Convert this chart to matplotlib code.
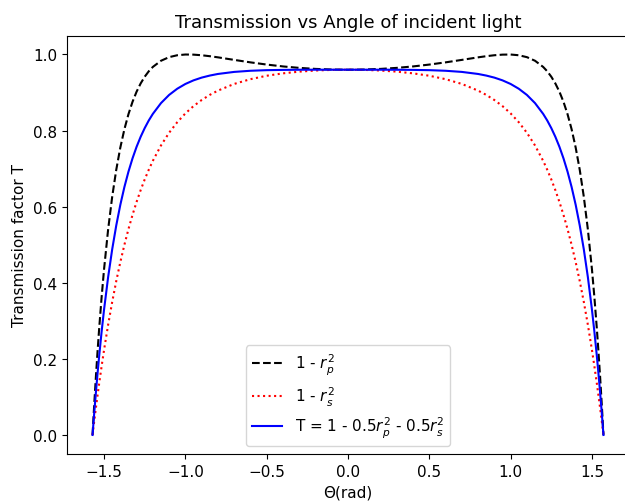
import matplotlib
matplotlib.use("Agg")
import matplotlib.pyplot as plt

# angle of incidence (rad)
theta = [-1.5708, -1.565, -1.56, -1.55, -1.54, -1.53, -1.515, -1.5, -1.475, -1.45,
         -1.425, -1.4, -1.375, -1.35, -1.325, -1.3, -1.275, -1.25, -1.225, -1.2,
         -1.15, -1.1, -1.05, -1.0, -0.95, -0.9, -0.85, -0.8, -0.7, -0.6,
         -0.5, -0.4, -0.3, -0.2, -0.1,
         0.0,
         0.1, 0.2, 0.3, 0.4, 0.5, 0.6, 0.7, 0.8, 0.85, 0.9,
         0.95, 1.0, 1.05, 1.1, 1.15, 1.2, 1.225, 1.25, 1.275, 1.3,
         1.325, 1.35, 1.375, 1.4, 1.425, 1.45, 1.475, 1.5, 1.515, 1.53,
         1.54, 1.55, 1.56, 1.565, 1.5708]

# 1 - rp^2
t_p = [0.0, 0.0456, 0.0832, 0.1542, 0.2197, 0.2802, 0.3625, 0.4357, 0.5401, 0.6261,
       0.6970, 0.7554, 0.8035, 0.8431, 0.8756, 0.9022, 0.9239, 0.9416, 0.9559, 0.9673,
       0.9835, 0.9930, 0.9980, 0.9999, 0.9996, 0.9980, 0.9955, 0.9925, 0.9858, 0.9793,
       0.9735, 0.9686, 0.9648, 0.9621, 0.9605,
       0.9600,
       0.9605, 0.9621, 0.9648, 0.9686, 0.9735, 0.9793, 0.9858, 0.9925, 0.9955, 0.9980,
       0.9996, 0.9999, 0.9980, 0.9930, 0.9835, 0.9673, 0.9559, 0.9416, 0.9239, 0.9022,
       0.8756, 0.8431, 0.8035, 0.7554, 0.6970, 0.6261, 0.5401, 0.4357, 0.3625, 0.2802,
       0.2197, 0.1542, 0.0832, 0.0456, 0.0]

# 1 - rs^2
t_s = [0.0, 0.0205, 0.0379, 0.0717, 0.1043, 0.1357, 0.1808, 0.2235, 0.2895, 0.3497,
       0.4045, 0.4543, 0.4997, 0.5410, 0.5785, 0.6125, 0.6435, 0.6717, 0.6972, 0.7205,
       0.7609, 0.7943, 0.8220, 0.8451, 0.8643, 0.8803, 0.8938, 0.9050, 0.9226, 0.9351,
       0.9441, 0.9504, 0.9549, 0.9578, 0.9595,
       0.9600,
       0.9595, 0.9578, 0.9549, 0.9504, 0.9441, 0.9351, 0.9226, 0.9050, 0.8938, 0.8803,
       0.8643, 0.8451, 0.8220, 0.7943, 0.7609, 0.7205, 0.6972, 0.6717, 0.6435, 0.6125,
       0.5785, 0.5410, 0.4997, 0.4543, 0.4045, 0.3497, 0.2895, 0.2235, 0.1808, 0.1357,
       0.1043, 0.0717, 0.0379, 0.0205, 0.0]

# T = 1 - 0.5 rp^2 - 0.5 rs^2
t_tot = [0.0, 0.0331, 0.0606, 0.1129, 0.1620, 0.2080, 0.2717, 0.3296, 0.4148, 0.4879,
         0.5507, 0.6049, 0.6516, 0.6920, 0.7270, 0.7574, 0.7837, 0.8066, 0.8266, 0.8439,
         0.8722, 0.8937, 0.9100, 0.9225, 0.9320, 0.9392, 0.9446, 0.9488, 0.9542, 0.9572,
         0.9588, 0.9595, 0.9599, 0.9600, 0.9600,
         0.9600,
         0.9600, 0.9600, 0.9599, 0.9595, 0.9588, 0.9572, 0.9542, 0.9488, 0.9446, 0.9392,
         0.9320, 0.9225, 0.9100, 0.8937, 0.8722, 0.8439, 0.8266, 0.8066, 0.7837, 0.7574,
         0.7270, 0.6920, 0.6516, 0.6049, 0.5507, 0.4879, 0.4148, 0.3296, 0.2717, 0.2080,
         0.1620, 0.1129, 0.0606, 0.0331, 0.0]

plt.rcParams["font.size"] = 11

fig = plt.figure(figsize=(6.25, 5.02), dpi=100)
ax = fig.add_axes([67 / 625, 47 / 502, 562 / 625, 418.5 / 502])

ax.plot(theta, t_p, "k--", label=r"1 - $r_p^2$")
ax.plot(theta, t_s, "r:", label=r"1 - $r_s^2$")
ax.plot(theta, t_tot, "b-", label=r"T = 1 - 0.5$r_p^2$ - 0.5$r_s^2$")

ax.set_title("Transmission vs Angle of incident light", fontsize=13)
ax.set_xlabel("Θ(rad)")
ax.set_ylabel("Transmission factor T")
ax.legend(loc="lower center")

fig.savefig("out.png", dpi=100)
